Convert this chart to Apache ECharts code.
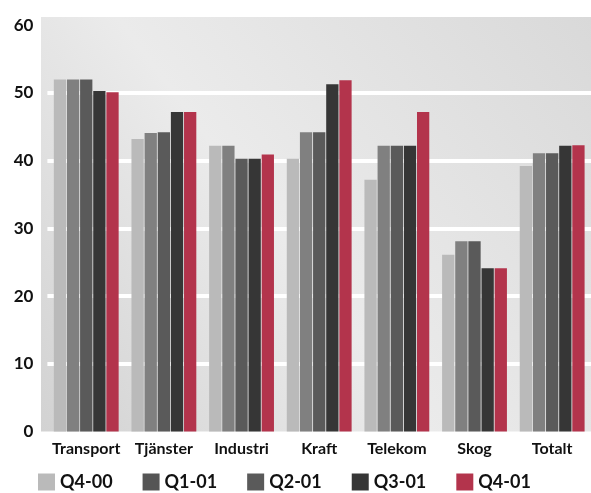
<!DOCTYPE html>
<html><head><meta charset="utf-8">
<script src="https://cdn.jsdelivr.net/npm/echarts@6/dist/echarts.min.js"></script>
<style>html,body{margin:0;padding:0;background:#fff}#c{width:591px;height:493px}</style>
</head><body><div id="c"></div>
<script>
const categories = ['Transport','Tjänster','Industri','Kraft','Telekom','Skog','Totalt'];
const seriesNames = ['Q4-00','Q1-01','Q2-01','Q3-01','Q4-01'];
const q4_00 = [52.0, 43.2, 42.2, 40.3, 37.2, 26.1, 39.2];
const q1_01 = [52.0, 44.1, 42.2, 44.2, 42.2, 28.1, 41.1];
const q2_01 = [52.0, 44.2, 40.3, 44.2, 42.2, 28.1, 41.1];
const q3_01 = [50.3, 47.2, 40.3, 51.3, 42.2, 24.1, 42.2];
const q4_01 = [50.1, 47.2, 40.9, 51.9, 47.2, 24.1, 42.3];
const yTicks = [0, 10, 20, 30, 40, 50, 60];

const barColors = ['#bababa', '#808080', '#5a5a5a', '#363636', '#b3344c'];
const legendColors = ['#bababa', '#555555', '#5a5a5a', '#363636', '#b3344c'];
const values = [q4_00, q1_01, q2_01, q3_01, q4_01];

const chart = echarts.init(document.getElementById('c'), null, {renderer: 'canvas'});
const font = 'Lato, "Open Sans", sans-serif';
chart.setOption({
  animation: false,
  backgroundColor: '#ffffff',
  graphic: [{
    type: 'rect', z: -10, silent: true,
    shape: {x: 41, y: 17, width: 550, height: 414.5},
    style: {
      fill: new echarts.graphic.LinearGradient(0, 1, 1, 0, [
        {offset: 0, color: '#d2d2d2'},
        {offset: 0.45, color: '#ebebeb'},
        {offset: 1, color: '#d9d9d9'}
      ])
    }
  }],
  grid: {left: 47.4, right: -11, top: 25.3, bottom: 61.5, containLabel: false},
  legend: {
    left: 38, top: 473, padding: 0, icon: 'rect', itemWidth: 17, itemHeight: 17, itemGap: 30,
    textStyle: {fontFamily: font, fontWeight: 'bold', fontSize: 18, color: '#111', padding: [0, 0, 0, 0]},
    data: seriesNames.map((n, i) => ({name: n, itemStyle: {color: legendColors[i]}}))
  },
  xAxis: {
    type: 'category', data: categories,
    axisLine: {show: false}, axisTick: {show: false},
    axisLabel: {margin: 9, fontFamily: font, fontWeight: 'bold', fontSize: 16, color: '#111', interval: 0}
  },
  yAxis: {
    type: 'value', min: yTicks[0], max: yTicks[yTicks.length - 1], interval: 10,
    axisLine: {show: false}, axisTick: {show: false},
    axisLabel: {margin: 14, fontFamily: font, fontWeight: 'bold', fontSize: 17, color: '#111'},
    splitLine: {show: true, showMinLine: false, showMaxLine: false, lineStyle: {color: '#ffffff', width: 4}}
  },
  series: seriesNames.map((n, i) => ({
    name: n, type: 'bar', data: values[i],
    barGap: '7%', barCategoryGap: '16.5%',
    itemStyle: {color: barColors[i]}
  }))
});
</script></body></html>
